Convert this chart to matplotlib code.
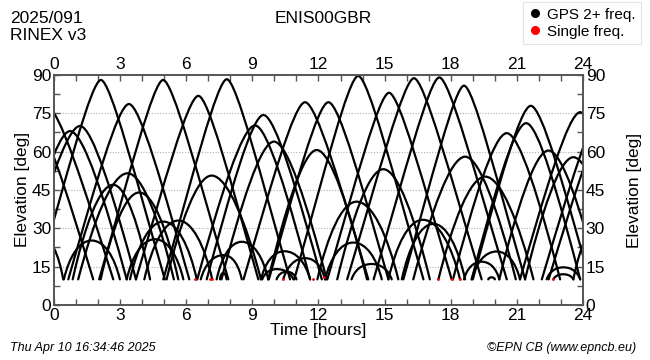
import numpy as np
import matplotlib
matplotlib.use("Agg")
from matplotlib import pyplot as plt
from matplotlib.path import Path
from matplotlib.patches import PathPatch
from matplotlib.lines import Line2D

plt.rcParams['font.family'] = ['Liberation Sans', 'DejaVu Sans']

# satellite passes: rise time, culmination time, max elevation, set time
rise_h = [-1.9, -3.4, -3.25, -0.77, -1.72, -1.5, 0.45, 0.65, 0.85, 1.1,
          2.12, 2.05, 3.3, 3.45, 4.1, 3.72, 5.11, 4.96, 6.66, 7.53,
          7.38, 6.5, 6.93, 7.6, 8.6, 9.72, 9.75, 9.39, 10.4, 9.45,
          10.1, 10.9, 12.4, 13.3, 14.5, 12.85, 11.95, 12.3, 13.5, 15.17,
          15.78, 15.85, 16.3, 17.44, 18.6, 18.95, 18.1, 18.95, 19.0, 20.2,
          21.14, 21.37, 22.35, 22.65, 22.13, 22.44, 23.56, 19.7]
peak_h = [-0.6, -1.1, -0.35, 2.13, 0.73, 1.18, 1.71, 3.40, 2.69, 3.34,
          3.87, 4.95, 4.58, 4.96, 5.64, 6.55, 7.15, 7.84, 7.7, 7.68,
          8.52, 9.12, 9.5, 9.98, 11.39, 11.92, 12.45, 10.45, 11.4, 10.1,
          10.56, 13.8, 15.2, 16.33, 17.48, 14.94, 13.73, 13.58, 14.41, 16.73,
          17.21, 18.6, 18.65, 19.56, 19.4, 20.08, 20.54, 21.42, 21.63, 22.43,
          23.87, 23.56, 23.11, 23.1, 25.0, 25.3, 25.0, 19.85]
peak_el = [27, 75, 78, 88, 68, 70, 25.2, 78.6, 47, 51.5,
           44, 88, 25.7, 32.6, 33, 81.8, 50.6, 88.3, 19.5, 12.5,
           24.7, 70.2, 74.3, 63.9, 79.3, 60.6, 79.3, 21, 18.3, 14,
           13, 89.6, 83, 88.7, 89, 53.1, 40.4, 24.4, 16, 33.3,
           31.7, 85.8, 58, 50.2, 16.9, 20.9, 67.2, 71.1, 77.9, 60.4,
           75.4, 57.8, 14.7, 12, 78, 75, 35, 10.8]
set_h = [0.42, 1.78, 2.69, 5.03, 3.3, 3.72, 2.99, 6.14, 4.36, 5.44,
         5.64, 7.91, 5.87, 6.48, 7.18, 9.27, 9.39, 10.71, 8.52, 7.83,
         9.72, 11.62, 12.15, 12.37, 14.26, 14.2, 15.17, 11.62, 12.3, 10.86,
         11.0, 16.76, 18.04, 19.4, 20.54, 17.05, 15.62, 14.87, 15.32, 18.42,
         18.65, 21.37, 20.95, 21.75, 20.2, 21.14, 22.96, 23.87, 24.3, 24.7,
         26.6, 25.8, 23.87, 23.56, 27.9, 28.0, 26.8, 20.0]
mask_el = 10

# epochs with single-frequency data only
single_h = [6.4, 7.1, 7.18, 10.4, 11.77, 12.27, 17.44, 18.04, 18.42, 22.65]
single_el = [10, 10, 10, 10, 10, 11, 10, 10, 10, 10]

fig = plt.figure(figsize=(6.5, 3.6), dpi=100)
ax = fig.add_axes([0.083, 0.153, 0.814, 0.639])

for r, p, e, s in zip(rise_h, peak_h, peak_el, set_h):
    h = e - mask_el
    k = min(max((e - 15) / 70.0, 0), 1)
    a1 = 0.15 + 0.3 * k
    b1 = 0.6 - 0.1 * k
    a2 = 0.5 - 0.35 * k
    verts = [(r, mask_el),
             (r + a1 * (p - r), mask_el + b1 * h), (p - a2 * (p - r), e), (p, e),
             (p + a2 * (s - p), e), (s - a1 * (s - p), mask_el + b1 * h), (s, mask_el)]
    codes = [Path.MOVETO] + [Path.CURVE4] * 6
    ax.add_patch(PathPatch(Path(verts, codes), fill=False, edgecolor='black',
                           lw=1.6, capstyle='round', joinstyle='round'))

ax.plot(single_h, single_el, 'o', color='red', ms=2, mew=0, zorder=3)

ax.set_xlim(0, 24)
ax.set_ylim(0, 90)
ax.set_xticks(range(0, 25, 3))
ax.set_xticks(range(0, 25, 1), minor=True)
ax.set_yticks(range(0, 91, 15))
ax.set_yticks(np.arange(0, 91, 7.5), minor=True)
ax.tick_params(which='both', direction='in', top=True, right=True,
               labeltop=True, labelright=True, length=4, width=1,
               color='#555555', labelsize=12.5, pad=2)
ax.set_axisbelow(True)
ax.yaxis.grid(True, linestyle=(0, (1, 1.5)), color='#b0b0b0', lw=0.8)
for sp in ax.spines.values():
    sp.set_color('#555555')
    sp.set_linewidth(1.4)

ax.set_xlabel('Time [hours]', fontsize=12.5, labelpad=0)
ax.set_ylabel('Elevation [deg]', fontsize=12.5, labelpad=1)
fig.text(0.976, 0.472, 'Elevation [deg]', rotation=90, fontsize=12.5,
         ha='center', va='center')

fig.text(0.016, 0.97, '2025/091', fontsize=12.5, va='top')
fig.text(0.016, 0.922, 'RINEX v3', fontsize=12.5, va='top')
fig.text(0.498, 0.97, 'ENIS00GBR', fontsize=12.5, va='top', ha='center')
fig.text(0.015, 0.032, 'Thu Apr 10 16:34:46 2025', fontsize=9,
         style='italic', va='center')
fig.text(0.978, 0.032, '\u00a9EPN CB (www.epncb.eu)', fontsize=9,
         style='italic', va='center', ha='right')

handles = [Line2D([], [], ls='none', marker='o', color='black', ms=5.5),
           Line2D([], [], ls='none', marker='o', color='red', ms=5.5)]
leg = fig.legend(handles, ['GPS 2+ freq.', 'Single freq.'], loc='upper right',
                 bbox_to_anchor=(0.986, 0.994), fontsize=11, frameon=True,
                 fancybox=False, borderaxespad=0, handlelength=0.8,
                 handletextpad=0.4, labelspacing=0.2, borderpad=0.35)
leg.get_frame().set_edgecolor('#dddddd')
leg.get_frame().set_linewidth(0.8)

fig.savefig('out.png', dpi=100)
